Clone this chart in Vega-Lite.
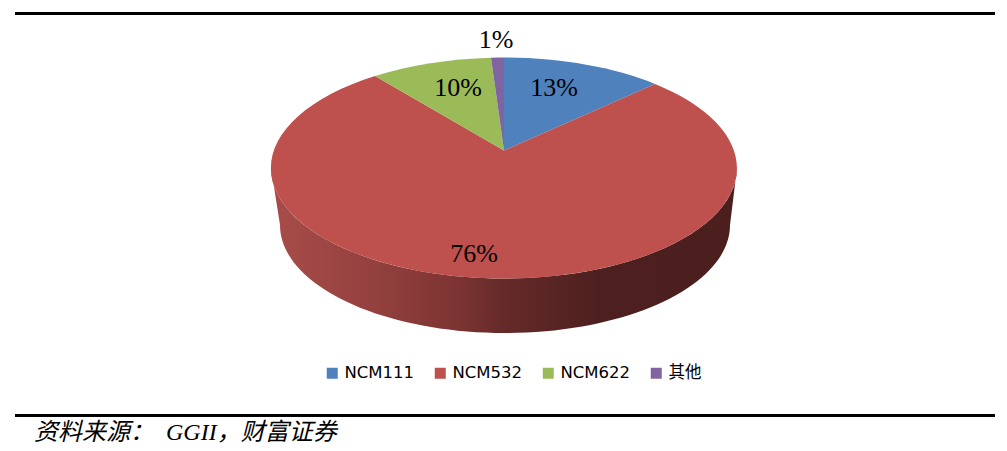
{
"$schema":"https://vega.github.io/schema/vega-lite/v6.json",
"width":1007,"height":451,"padding":0,"autosize":{"type":"none"},"background":"white",
"config":{"axis":{"disable":true},"view":{"stroke":null},
"legend":{"title":null,"orient":"none","direction":"horizontal","legendX":324,"legendY":365,"symbolType":"square","symbolSize":121,"symbolStrokeWidth":0,"symbolOpacity":1,"labelFont":"DejaVu Sans, Noto Sans CJK SC","labelFontSize":16.5,"labelColor":"#000000","labelOffset":4,"columnPadding":17,"gridAlign":"none","padding":0}},
"datasets":{"slices":[
{"category":"NCM111","value":13,"label":"13%"},
{"category":"NCM532","value":76,"label":"76%"},
{"category":"NCM622","value":10,"label":"10%"},
{"category":"其他","value":1,"label":"1%"}]},
"layer":[
{"data":{"name":"slices"},"transform":[{"filter":"datum.category==='NCM532'"}],
"mark":{"type":"point","filled":true,"opacity":1,"size":4,"strokeWidth":0,
"shape":"M233 17.5 L226 74.5 A225 108 0 0 1 -224 74.5 L-233 17.5 A233 110.5 0 0 0 233 17.5 Z",
"fill":{"gradient":"linear","x1":0,"y1":0,"x2":1,"y2":0,"stops":[
{"offset":0,"color":"#a84c49"},{"offset":0.2,"color":"#964240"},{"offset":0.4,"color":"#7c3432"},{"offset":0.5,"color":"#652a29"},{"offset":0.7,"color":"#4d201f"},{"offset":1,"color":"#4a1f1e"}]}},
"encoding":{
"x":{"datum":0,"scale":{"domain":[-504,503],"nice":false,"zero":false}},
"y":{"datum":0,"scale":{"domain":[300.5,-150.5],"nice":false,"zero":false}}}},
{"data":{"name":"slices"},"transform":[{"filter":"datum.category==='NCM111'"}],
"mark":{"type":"point","filled":true,"opacity":1,"size":4,"strokeWidth":0,"shape":"M0 0 L0 -93 A233 110.5 0 0 1 151 -66.6 Z"},
"encoding":{"x":{"datum":0},"y":{"datum":0},
"color":{"field":"category","type":"nominal","sort":null,"scale":{"domain":["NCM111","NCM532","NCM622","其他"],"range":["#4f81bd","#be504d","#9bbb59","#8064a2"]}}}},
{"data":{"name":"slices"},"transform":[{"filter":"datum.category==='NCM532'"}],
"mark":{"type":"point","filled":true,"opacity":1,"size":4,"strokeWidth":0,"shape":"M0 0 L151 -66.6 A233 110.5 0 1 1 -129 -74.5 Z"},
"encoding":{"x":{"datum":0},"y":{"datum":0},"color":{"field":"category","type":"nominal","sort":null}}},
{"data":{"name":"slices"},"transform":[{"filter":"datum.category==='NCM622'"}],
"mark":{"type":"point","filled":true,"opacity":1,"size":4,"strokeWidth":0,"shape":"M0 0 L-129 -74.5 A233 110.5 0 0 1 -13 -92.8 Z"},
"encoding":{"x":{"datum":0},"y":{"datum":0},"color":{"field":"category","type":"nominal","sort":null}}},
{"data":{"name":"slices"},"transform":[{"filter":"datum.category==='其他'"}],
"mark":{"type":"point","filled":true,"opacity":1,"size":4,"strokeWidth":0,"shape":"M0 0 L-13 -92.8 A233 110.5 0 0 1 0 -93 Z"},
"encoding":{"x":{"datum":0},"y":{"datum":0},"color":{"field":"category","type":"nominal","sort":null}}},
{"data":{"name":"slices"},"transform":[{"filter":"datum.category==='NCM111'"}],"mark":{"type":"text","font":"Liberation Serif","fontSize":26,"color":"#000000"},"encoding":{"text":{"field":"label"},"x":{"datum":50},"y":{"datum":-62.5}}},
{"data":{"name":"slices"},"transform":[{"filter":"datum.category==='NCM622'"}],"mark":{"type":"text","font":"Liberation Serif","fontSize":26,"color":"#000000"},"encoding":{"text":{"field":"label"},"x":{"datum":-46},"y":{"datum":-62.5}}},
{"data":{"name":"slices"},"transform":[{"filter":"datum.category==='其他'"}],"mark":{"type":"text","font":"Liberation Serif","fontSize":26,"color":"#000000"},"encoding":{"text":{"field":"label"},"x":{"datum":-8},"y":{"datum":-110.5}}},
{"data":{"name":"slices"},"transform":[{"filter":"datum.category==='NCM532'"}],"mark":{"type":"text","font":"Liberation Serif","fontSize":26,"color":"#000000"},"encoding":{"text":{"field":"label"},"x":{"datum":-30},"y":{"datum":103.5}}},
{"data":{"values":[{"edge":"top"}]},"mark":{"type":"rule","color":"#000000","strokeWidth":3},"encoding":{"x":{"datum":-489},"x2":{"datum":491},"y":{"datum":-137}}},
{"data":{"values":[{"edge":"bottom"}]},"mark":{"type":"rule","color":"#000000","strokeWidth":3},"encoding":{"x":{"datum":-489},"x2":{"datum":491},"y":{"datum":265}}},
{"data":{"values":[{"source":"资料来源：\u00a0\u00a0GGII，财富证券"}]},"mark":{"type":"text","align":"left","font":"Liberation Serif, Noto Sans CJK SC","fontStyle":"italic","fontSize":24,"color":"#000000"},"encoding":{"text":{"field":"source"},"x":{"datum":-470},"y":{"datum":282}}}
]
}
